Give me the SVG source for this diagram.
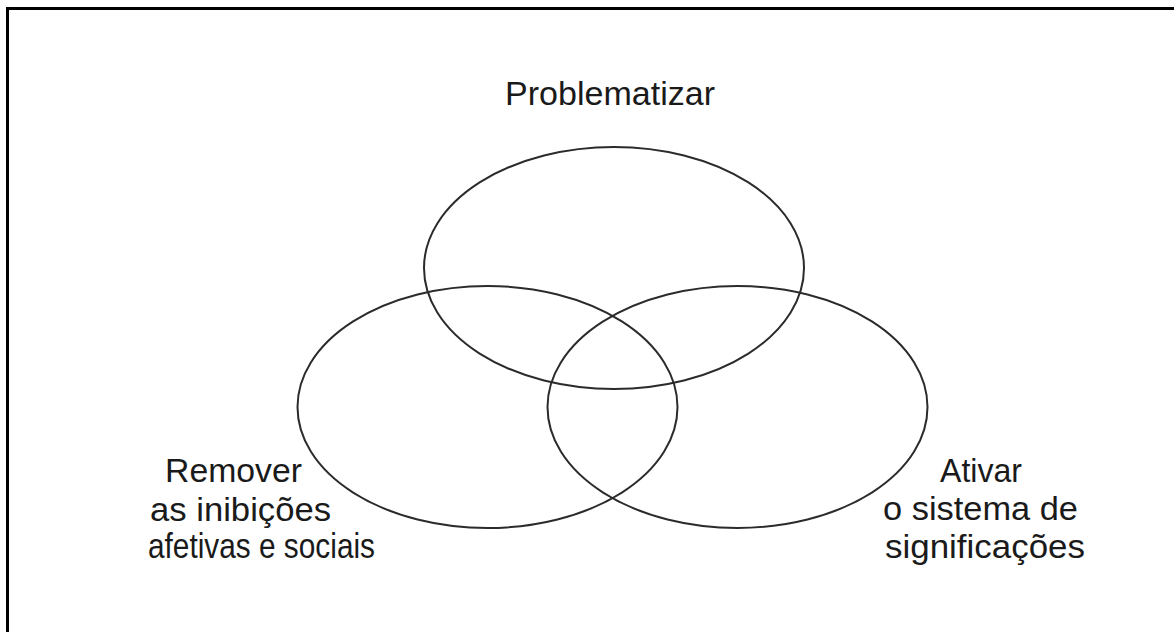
<svg xmlns="http://www.w3.org/2000/svg" width="1174" height="632" viewBox="0 0 1174 632">
  <style>
    .frame { fill: none; stroke: #000; stroke-width: 3; }
    .circle { fill: none; stroke: #2b2b2b; stroke-width: 2; }
    .label { font-family: "Liberation Sans", Arial, sans-serif; font-size: 33px; fill: #1a1a1a; }
    .long { font-size: 34.5px; }
  </style>
  <rect width="1174" height="632" fill="#fff"/>
  <rect class="frame" x="7.5" y="8.5" width="1180" height="640"/>

  <g id="problematizar">
    <ellipse class="circle" cx="614" cy="268" rx="190" ry="121"/>
    <text class="label" x="505" y="105" textLength="210" lengthAdjust="spacingAndGlyphs">Problematizar</text>
  </g>

  <g id="remover">
    <ellipse class="circle" cx="487.5" cy="407" rx="190" ry="121"/>
    <text class="label" x="165" y="482" textLength="137" lengthAdjust="spacingAndGlyphs">Remover</text>
    <text class="label" x="150" y="521" textLength="181" lengthAdjust="spacingAndGlyphs">as inibições</text>
    <text class="label long" x="148" y="558" textLength="227" lengthAdjust="spacingAndGlyphs">afetivas e sociais</text>
  </g>

  <g id="ativar">
    <ellipse class="circle" cx="737.5" cy="407" rx="190" ry="121"/>
    <text class="label" x="940" y="482" textLength="82" lengthAdjust="spacingAndGlyphs">Ativar</text>
    <text class="label" x="883" y="520" textLength="195" lengthAdjust="spacingAndGlyphs">o sistema de</text>
    <text class="label" x="885" y="558" textLength="200" lengthAdjust="spacingAndGlyphs">significações</text>
  </g>

  <g id="connectors"/>
</svg>
